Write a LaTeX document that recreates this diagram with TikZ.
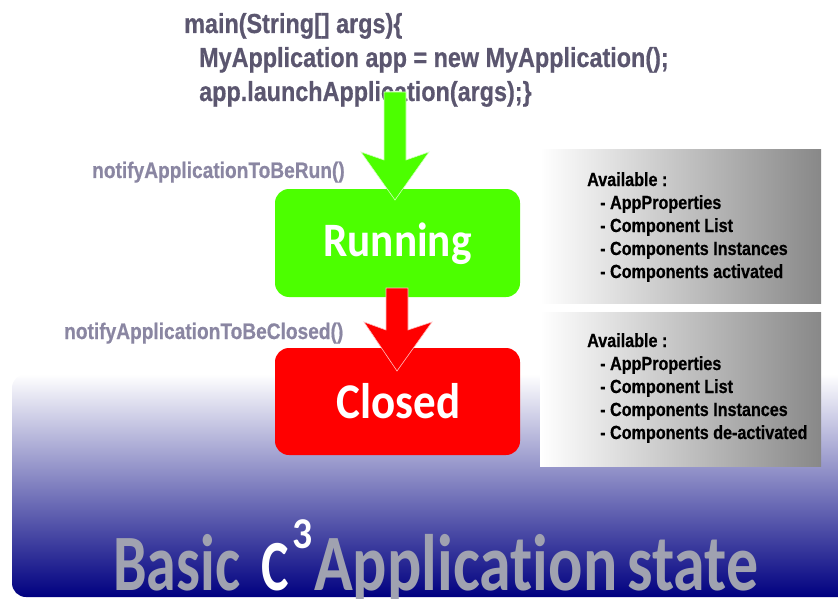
\documentclass[tikz,border=0pt]{standalone}
\usepackage{fontspec}
\setmainfont{Liberation Sans}
\newfontfamily\condf{Liberation Sans Bold}[FakeStretch=0.85,FakeBold=0.6]
\newfontfamily\statef{Carlito Bold}[FakeStretch=0.9,Ligatures=NoCommon]
\newfontfamily\titlef{Carlito Bold}[FakeStretch=0.8,Ligatures=NoCommon]
\newfontfamily\titlefB{Carlito Bold}[FakeStretch=0.75,Ligatures=NoCommon]
\newfontfamily\titlefC{Carlito Bold}[FakeStretch=0.72,Ligatures=NoCommon]
\newfontfamily\titlefD{Carlito Bold}[FakeStretch=0.9,Ligatures=NoCommon]
\usetikzlibrary{calc}
\definecolor{codecol}{RGB}{91,86,111}
\definecolor{notecol}{RGB}{138,134,162}
\definecolor{runcol}{RGB}{76,255,0}
\definecolor{closecol}{RGB}{255,0,0}
\definecolor{titlecol}{RGB}{160,162,176}
\definecolor{navyc}{RGB}{0,0,128}
\definecolor{boxgray}{RGB}{136,136,136}
\pgfdeclarehorizontalshading{grayfade}{100bp}{color(0bp)=(white); color(25bp)=(white); color(75bp)=(boxgray); color(100bp)=(boxgray)}
\tikzset{
  codetxt/.style={font=\condf\fontsize{27.5}{34}\selectfont, text=codecol, align=left, inner sep=0pt, anchor=base west},
  notetxt/.style={font=\condf\fontsize{22.5}{26}\selectfont, text=notecol, inner sep=0pt, anchor=base west},
  infotxt/.style={font=\condf\fontsize{19}{23}\selectfont, text=black, align=left, inner sep=0pt, anchor=base west},
  statebox/.style={rounded corners=14pt, minimum width=245pt, inner sep=0pt},
  statelbl/.style={inner sep=0pt, anchor=base, text=white, font=\statef\fontsize{48}{48}\selectfont},
  infobox/.style={shading=grayfade, draw=none},
  blockarrow/.style={draw=white!75!#1, line width=0.6pt, fill=#1},
  titletxt/.style={font=\titlef\fontsize{80}{80}\selectfont, inner sep=0pt, anchor=base west}
}
\begin{document}
\begin{tikzpicture}[x=1pt,y=-1pt]
\useasboundingbox (0,0) rectangle (838,599);
% blue background band
\path[top color=white, bottom color=navyc, rounded corners=14pt] (12,374) -- (12,597) -- (860,597) -- (860,374) -- cycle;
% info boxes
\path[infobox] (540,150) rectangle (821,303);
\path[infobox] (540,312) rectangle (821,466);
\node[infotxt] (info1) at (587,278) {Available :\\\hspace*{13pt}- AppProperties\\\hspace*{13pt}- Component List\\\hspace*{13pt}- Components Instances\\\hspace*{13pt}- Components activated};
\node[infotxt] (info2) at (587,439) {Available :\\\hspace*{13pt}- AppProperties\\\hspace*{13pt}- Component List\\\hspace*{13pt}- Components Instances\\\hspace*{13pt}- Components de-activated};
% code
\node[codetxt] (code) at (184,101) {main(String[] args)\{\\\hspace*{15pt}MyApplication app = new MyApplication();\\\hspace*{15pt}app.launchApplication(args);\}};
% state boxes
\node[statebox, fill=runcol, minimum height=108pt] (run) at (397.5,243) {};
\node[statebox, fill=closecol, minimum height=107pt] (closed) at (397.5,401.5) {};
\node[statelbl] (runlbl) at (397.5,256) {Running};
\node[statelbl, font=\statef\fontsize{50}{50}\selectfont] (closedlbl) at (398.5,418) {Closed};
% notifications
\node[notetxt] (n1) at (92,178) {notifyApplicationToBeRun()};
\node[notetxt] (n2) at (64,339) {notifyApplicationToBeClosed()};
% arrows
\coordinate (gs) at (395,92);
\coordinate (rs) at (397,288);
\begin{scope}[shift={(gs)}]
\draw[blockarrow=runcol] (-11,0) -- (-11,68) -- (-34,60) -- (0,108) -- (34,60) -- (11,68) -- (11,0) -- cycle;
\end{scope}
\begin{scope}[shift={(rs)}]
\draw[blockarrow=closecol] (-11,0) -- (-11,42) -- (-33,34) -- (0,83) -- (35,34) -- (11,42) -- (11,0) -- cycle;
\end{scope}
% title
\node[titletxt, text=titlecol, font=\titlefB\fontsize{80}{80}\selectfont] (t1) at (113,590) {Basic};
\node[titletxt, text=white, font=\titlefC\fontsize{72}{72}\selectfont] (t2) at (261,590) {C};
\node[titletxt, text=white, font=\titlefD\fontsize{44}{44}\selectfont] (t3) at (292,548) {3};
\node[titletxt, text=titlecol] (t4) at (314,590) {Application};
\node[titletxt, text=titlecol] (t5) at (627,590) {state};
\end{tikzpicture}
\end{document}
